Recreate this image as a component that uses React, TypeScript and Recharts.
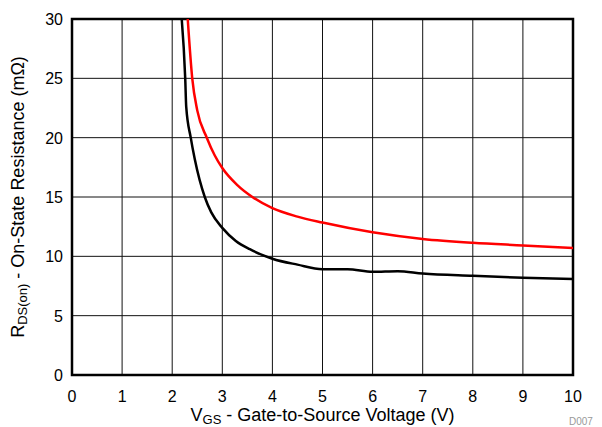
import React from "react";
import {
  LineChart,
  Line,
  XAxis,
  YAxis,
  CartesianGrid,
  ReferenceArea,
  Label,
} from "recharts";

// VGS values (V) and RDS(on) values (mΩ)
const vgsBlack = [2.19, 2.26, 2.28, 2.37, 2.45, 2.65, 2.78, 3.0, 3.27, 3.55, 4.0, 4.5, 5.0, 5.5, 6.0, 6.5, 7.0, 8.0, 9.0, 10.0];
const rdsBlack = [30, 25, 22.6, 20, 18.2, 15, 13.7, 12.4, 11.3, 10.6, 9.8, 9.3, 8.92, 8.92, 8.7, 8.75, 8.55, 8.36, 8.2, 8.08];

const vgsRed = [2.31, 2.4, 2.5, 2.69, 2.85, 3.0, 3.3, 3.6, 4.0, 4.5, 5.0, 6.0, 7.0, 8.0, 9.0, 10.0];
const rdsRed = [30, 25, 22.3, 20, 18.5, 17.44, 16.0, 15.0, 14.06, 13.35, 12.85, 12.03, 11.47, 11.14, 10.92, 10.7];

const xTicks = [0, 1, 2, 3, 4, 5, 6, 7, 8, 9, 10];
const yTicks = [0, 5, 10, 15, 20, 25, 30];

const blackData = vgsBlack.map((v, i) => ({ v, r: rdsBlack[i] }));
const redData = vgsRed.map((v, i) => ({ v, r: rdsRed[i] }));

const FONT = "'Liberation Sans', Arial, Helvetica, sans-serif";

const XTick = (props: any) => {
  const { x, y, payload } = props;
  return (
    <text x={x} y={y} dy={27} textAnchor="middle" fontSize={16} fontFamily={FONT} fill="#000">
      {payload.value}
    </text>
  );
};

const YTick = (props: any) => {
  const { x, y, payload } = props;
  return (
    <text x={x - 9} y={y} dy={6} textAnchor="end" fontSize={16} fontFamily={FONT} fill="#000">
      {payload.value}
    </text>
  );
};

const XTitle = (props: any) => {
  const vb = props.viewBox;
  return (
    <text
      x={vb.x + vb.width / 2}
      y={vb.y + 46}
      textAnchor="middle"
      fontSize={18}
      fontFamily={FONT}
      fill="#000"
    >
      V
      <tspan fontSize={13} dy={3}>GS</tspan>
      <tspan dy={-3}> - Gate-to-Source Voltage (V)</tspan>
    </text>
  );
};

const YTitle = (props: any) => {
  const vb = props.viewBox;
  const cy = vb.y + vb.height / 2;
  return (
    <text
      transform={`translate(24, ${cy}) rotate(-90)`}
      textAnchor="middle"
      fontSize={18}
      fontFamily={FONT}
      fill="#000"
    >
      R
      <tspan fontSize={13} dy={3}>DS(on)</tspan>
      <tspan dy={-3}> - On-State Resistance (mΩ)</tspan>
    </text>
  );
};

export default function App() {
  return (
    <div style={{ position: "absolute", left: 0, top: 0, width: 602, height: 427, background: "#fff" }}>
      <LineChart
        width={602}
        height={427}
        margin={{ top: 19, right: 29, bottom: 0, left: 0 }}
      >
        <CartesianGrid stroke="#111" strokeWidth={1} />
        <XAxis
          type="number"
          dataKey="v"
          domain={[0, 10]}
          ticks={xTicks}
          allowDataOverflow
          height={52}
          axisLine={false}
          tickLine={false}
          tickSize={0}
          tickMargin={0}
          tick={<XTick />}
          interval={0}
        >
          <Label content={<XTitle />} />
        </XAxis>
        <YAxis
          type="number"
          dataKey="r"
          domain={[0, 30]}
          ticks={yTicks}
          allowDataOverflow
          width={72}
          axisLine={false}
          tickLine={false}
          tickSize={0}
          tickMargin={0}
          tick={<YTick />}
          interval={0}
        >
          <Label content={<YTitle />} />
        </YAxis>
        <Line
          data={redData}
          dataKey="r"
          type="monotone"
          stroke="#ff0000"
          strokeWidth={2.5}
          dot={false}
          isAnimationActive={false}
        />
        <Line
          data={blackData}
          dataKey="r"
          type="monotone"
          stroke="#000"
          strokeWidth={2.5}
          dot={false}
          isAnimationActive={false}
        />
        <ReferenceArea
          x1={0}
          x2={10}
          y1={0}
          y2={30}
          fill="none"
          fillOpacity={0}
          stroke="#000"
          strokeWidth={2.5}
          ifOverflow="visible"
        />
      </LineChart>
      <div
        style={{
          position: "absolute",
          left: 569,
          top: 416,
          fontSize: 10,
          fontFamily: FONT,
          color: "#999",
          whiteSpace: "nowrap",
          lineHeight: "11px",
        }}
      >
        D007
      </div>
    </div>
  );
}
